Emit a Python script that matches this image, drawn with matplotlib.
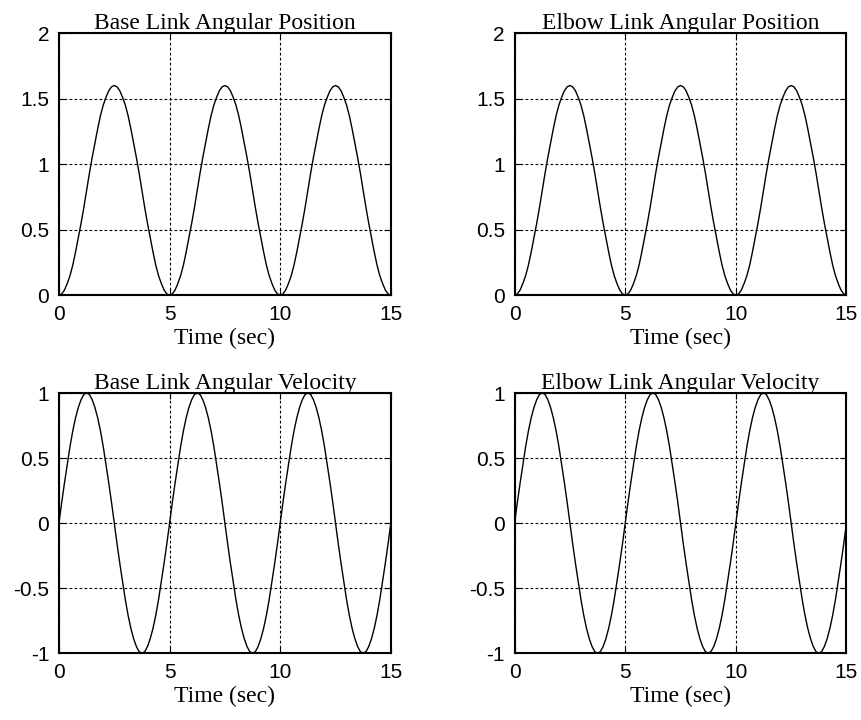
import matplotlib
matplotlib.use('Agg')
import matplotlib.pyplot as plt
import matplotlib.ticker as ticker

plt.rcParams['axes.unicode_minus'] = False

# time samples (sec), every 0.125 s
time = [i * 0.125 for i in range(121)]

# angular position (one period, repeated three times)
pos_period = [0.00, 0.01, 0.04, 0.09, 0.15, 0.23, 0.33, 0.44, 0.55, 0.67,
              0.80, 0.93, 1.05, 1.16, 1.27, 1.37, 1.45, 1.51, 1.56, 1.59,
              1.60, 1.59, 1.56, 1.51, 1.45, 1.37, 1.27, 1.16, 1.05, 0.93,
              0.80, 0.67, 0.55, 0.44, 0.33, 0.23, 0.15, 0.09, 0.04, 0.01]
base_pos = pos_period * 3 + [0.0]
elbow_pos = pos_period * 3 + [0.0]

# angular velocity
vel_period = [0.00, 0.16, 0.31, 0.45, 0.59, 0.71, 0.81, 0.89, 0.95, 0.99,
              1.00, 0.99, 0.95, 0.89, 0.81, 0.71, 0.59, 0.45, 0.31, 0.16,
              0.00, -0.16, -0.31, -0.45, -0.59, -0.71, -0.81, -0.89, -0.95, -0.99,
              -1.00, -0.99, -0.95, -0.89, -0.81, -0.71, -0.59, -0.45, -0.31, -0.16]
base_vel = vel_period * 3 + [0.0]
elbow_vel = vel_period * 3 + [0.0]

panels = [
    ('Base Link Angular Position', base_pos, (0, 2), [0, 0.5, 1, 1.5, 2]),
    ('Elbow Link Angular Position', elbow_pos, (0, 2), [0, 0.5, 1, 1.5, 2]),
    ('Base Link Angular Velocity', base_vel, (-1, 1), [-1, -0.5, 0, 0.5, 1]),
    ('Elbow Link Angular Velocity', elbow_vel, (-1, 1), [-1, -0.5, 0, 0.5, 1]),
]

positions = [
    [0.0684, 0.590, 0.385, 0.364],
    [0.597, 0.590, 0.385, 0.364],
    [0.0684, 0.093, 0.385, 0.361],
    [0.597, 0.093, 0.385, 0.361],
]

serif = 'Liberation Serif'
sans = 'Liberation Sans'

fig = plt.figure(figsize=(8.62, 7.2), dpi=100)

for (title, values, ylim, yticks), pos in zip(panels, positions):
    ax = fig.add_axes(pos)
    ax.plot(time, values, color='black', linewidth=1.0)
    ax.set_xlim(0, 15)
    ax.set_ylim(*ylim)
    ax.set_xticks([0, 5, 10, 15])
    ax.set_yticks(yticks)
    ax.yaxis.set_major_formatter(ticker.FuncFormatter(lambda v, p: '%g' % v))
    ax.grid(True, color='black', linestyle=(0, (2.5, 2)), linewidth=0.8)
    ax.tick_params(direction='in', length=4, width=0.8, labelsize=15,
                   top=True, right=True)
    ax.tick_params(axis='x', pad=7)
    ax.tick_params(axis='y', pad=7)
    for lab in ax.get_xticklabels() + ax.get_yticklabels():
        lab.set_fontfamily(sans)
    for sp in ax.spines.values():
        sp.set_linewidth(1.5)
    ax.set_title(title, fontfamily=serif, fontsize=17, pad=3)
    ax.set_xlabel('Time (sec)', fontfamily=serif, fontsize=17, labelpad=3)

fig.savefig('out.png', dpi=100)
